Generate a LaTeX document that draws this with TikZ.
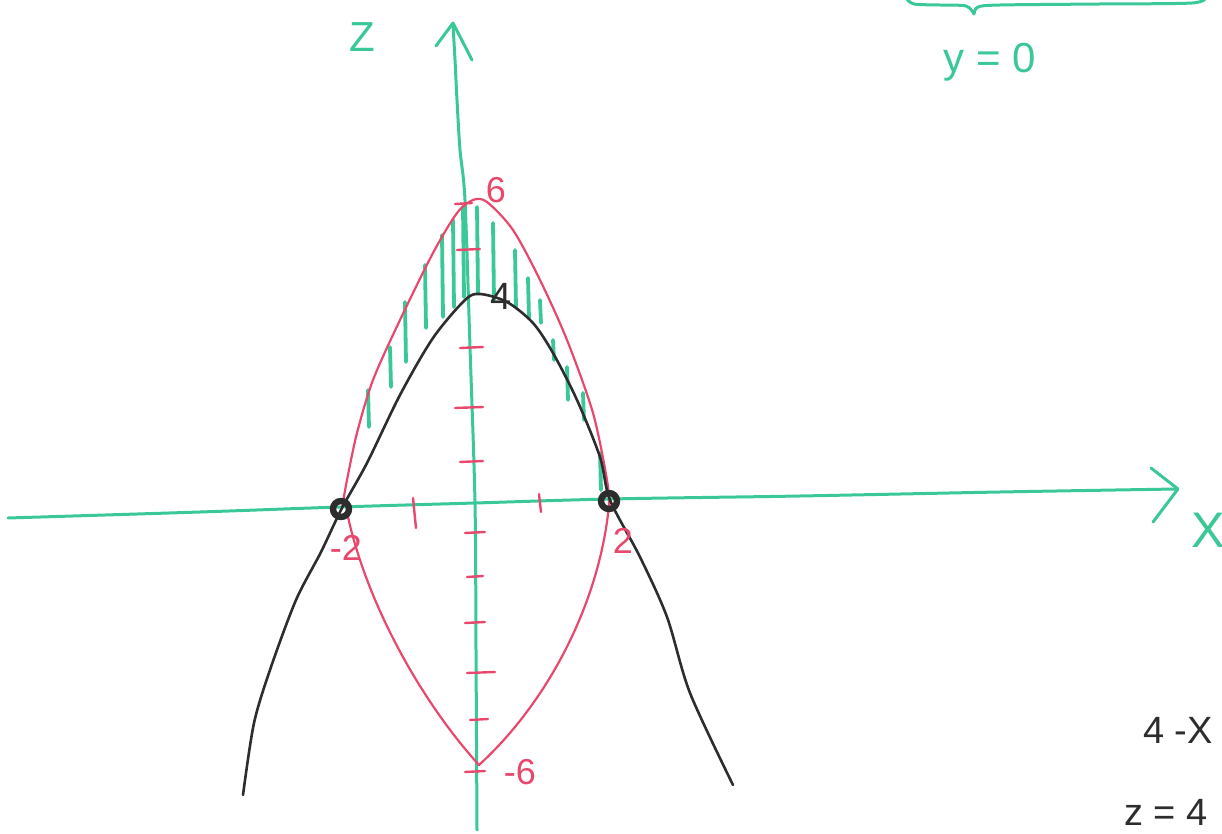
\documentclass[tikz,border=0pt]{standalone}
\usepackage{fontspec}
\setmainfont{Liberation Sans}
\definecolor{pgreen}{RGB}{58,200,150}
\definecolor{pred}{RGB}{232,72,108}
\definecolor{pblack}{RGB}{45,45,45}
\begin{document}
\begin{tikzpicture}[x=0.5pt,y=-0.5pt,line cap=round,line join=round,
  axis/.style={pgreen,line width=1.5pt},
  redcurve/.style={pred,line width=1.1pt},
  blackcurve/.style={pblack,line width=1.3pt},
  hatch/.style={pgreen,line width=1.9pt},
  ztick/.style={pred,line width=1.2pt},
  glbl/.style={pgreen,inner sep=0pt,font=\fontsize{21}{21}\selectfont},
  rlbl/.style={pred,inner sep=0pt,font=\fontsize{18}{18}\selectfont},
  klbl/.style={pblack,inner sep=0pt,font=\fontsize{19}{19}\selectfont},
  dotpt/.style={circle,draw=pblack,line width=3.2pt,minimum size=8pt,inner sep=0pt}]
\useasboundingbox (0,0) rectangle (1222,834);

% z axis
\draw[axis] plot[smooth] coordinates {(477,830) (476,650) (475,503) (470,347) (465,200) (460,150) (457,100) (455,60) (453,25)};
\coordinate (ztip) at (453,23);
\coordinate (zb1) at (436,46);
\coordinate (zb2) at (472,60);
\draw[axis] (zb1) -- (ztip) -- (zb2);

% x axis
\draw[axis] plot[smooth] coordinates {(8,518) (200,512) (340,507) (475,503) (610,499) (800,496) (1000,492) (1176,489)};
\coordinate (xtip) at (1178,489);
\coordinate (xb1) at (1151,468);
\coordinate (xb2) at (1153,522);
\draw[axis] (xb1) -- (xtip) -- (xb2);

% brace
\draw[axis] plot[smooth] coordinates {(906,-2) (914,4) (940,5) (966,6) (974,14)};
\draw[axis] plot[smooth] coordinates {(974,14) (978,7) (1000,5) (1100,4) (1192,3) (1206,-3)};

% hatching
\foreach \xa/\ya/\yb in {368/390/427, 390/347/387, 405/302/362, 425/265/328, 442/235/317,
  453/220/307, 463/207/297, 477/207/293, 493/223/300, 515/250/307, 528/278/318,
  540/300/323, 553/340/360, 567/367/400, 583/393/420, 600/453/490}
  \draw[hatch] (\xa,\ya) -- (\xa+1,\yb);

% z ticks
\foreach \xa/\xb/\yy in {455/472/204, 457/480/250, 460/483/348, 455/483/408, 460/483/462,
  465/485/533, 467/483/577, 465/485/623, 467/495/673, 470/488/720, 465/485/772}
  \draw[ztick] (\xa,\yy) -- (\xb,\yy-1);
% x ticks
\draw[ztick] (413,498) -- (416,528);
\draw[ztick] (539,494) -- (541,512);

% red curves
\draw[redcurve] plot[smooth] coordinates {(342,508) (347,480) (357,433) (373,380) (400,320) (433,253) (457,213) (473,200) (487,202) (513,230) (540,280) (567,340) (593,413) (607,480) (609,505)};
\coordinate (rv) at (479,765);
\coordinate (rl) at (347,512);
\coordinate (rr) at (609,505);
\draw[redcurve] (rr) .. controls (600,600) and (550,700) .. (rv);
\draw[redcurve] (rl) .. controls (365,600) and (420,700) .. (rv);

% black curve
\draw[blackcurve] plot[smooth] coordinates {(243,795) (254,723) (271,667) (296,600) (321,552) (342,508) (367,463) (400,395) (433,338) (465,300) (480,294) (507,302) (533,323) (553,353) (577,400) (600,457) (610,500) (640,557) (667,617) (690,693) (733,785)};

% intersection points
\node[dotpt] (pl) at (341,509) {};
\node[dotpt] (pr) at (609,501) {};

% labels
\node[glbl] (zl) at (362,37) {Z};
\node[glbl,font=\fontsize{25}{25}\selectfont] (xl) at (1208,530) {X};
\node[glbl] (y0) at (990,62) {y = 0};
\node[rlbl] (l6) at (496,190) {6};
\node[rlbl] (lm6) at (520,772) {-6};
\node[rlbl] (lm2) at (346,548) {-2};
\node[rlbl] (l2) at (623,541) {2};
\node[klbl] (l4) at (501,296) {4};
\node[klbl] (t1) at (1178,730) {4 -X};
\node[klbl] (t2) at (1166,812) {z = 4};
\end{tikzpicture}
\end{document}
